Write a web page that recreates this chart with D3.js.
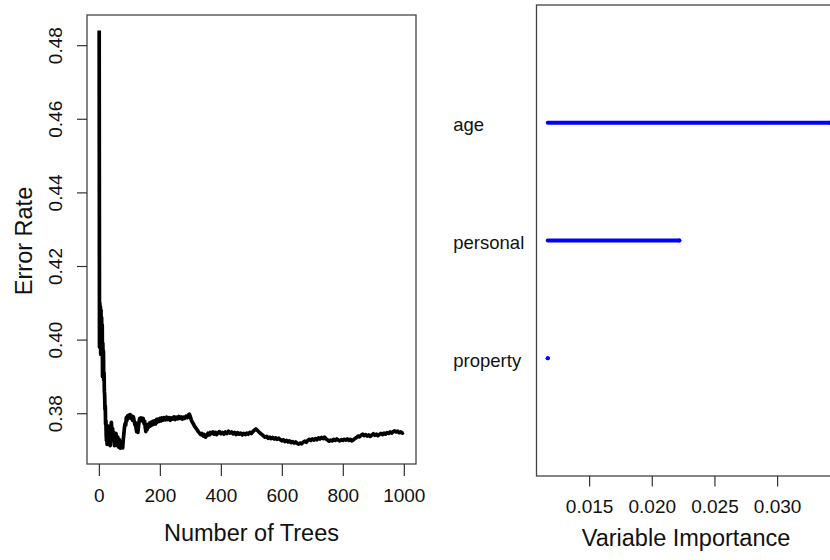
<!DOCTYPE html>
<html>
<head>
	<meta charset="utf-8">
	<title>random forest error and importance with d3</title>
	<style>
		body { margin: 0; background: #fff; }
		text { font-family: "Liberation Sans", Arial, Helvetica, sans-serif; fill: #111; }
	</style>
</head>
<body>
	<div class="svg-rf"></div>
<script src="https://cdn.jsdelivr.net/npm/d3@7/dist/d3.min.js"></script>
<script>
	// error rate by number of trees: [trees, error]
	let errorPath = [
		[1,0.484],[2,0.398],[3,0.410],[4,0.402],[5,0.409],[6,0.396],[7,0.408],[8,0.399],[9,0.406],[10,0.398],
		[11,0.404],[12,0.390],[13,0.399],[14,0.392],[15,0.397],[16,0.389],[17,0.391],[18,0.386],[19,0.385],[20,0.381],
		[21,0.382],[22,0.377],[23,0.378],[24,0.374],[25,0.3725],[26,0.375],[27,0.3715],[28,0.3735],[29,0.3755],[30,0.3765],
		[31,0.3745],[32,0.372],[33,0.3735],[34,0.3715],[35,0.3745],[36,0.3728],[37,0.3712],[38,0.3735],[40,0.3768],[41,0.3775],
		[42,0.3760],[44,0.3742],[45,0.3758],[47,0.3735],[48,0.3748],[50,0.3722],[51,0.3712],[53,0.3738],[55,0.3725],[56,0.3745],
		[58,0.3728],[60,0.3712],[62,0.3735],[63,0.3722],[65,0.3708],[67,0.3728],[68,0.3712],[70,0.3705],[72,0.3722],[74,0.3708],
		[76,0.3718],[78,0.3706],[80,0.3728],[82,0.3745],[84,0.3762],[86,0.3772],[88,0.3768],[90,0.3788],[92,0.3780],[94,0.3793],
		[96,0.3786],[98,0.3795],[100,0.3789],[103,0.3796],[106,0.3786],[108,0.3792],[110,0.3781],[113,0.3790],[116,0.3778],[118,0.3769],
		[120,0.3774],[122,0.3758],[124,0.3750],[126,0.3762],[128,0.3748],[130,0.3766],[132,0.3778],[134,0.3786],[136,0.3779],[139,0.3787],
		[142,0.3780],[145,0.3786],[148,0.3772],[150,0.3778],[152,0.3762],[154,0.3750],[156,0.3764],[158,0.3755],[160,0.3769],[163,0.3762],
		[166,0.3773],[168,0.3765],[171,0.3775],[174,0.3768],[177,0.3778],[180,0.3770],[183,0.3779],[186,0.3771],[189,0.3783],[192,0.3776],
		[195,0.3784],[198,0.3778],[201,0.3786],[204,0.3779],[207,0.3787],[210,0.3781],[214,0.3788],[218,0.3782],[222,0.3789],[226,0.3783],
		[230,0.3788],[234,0.3781],[238,0.3787],[242,0.3784],[246,0.3790],[250,0.3783],[254,0.3789],[258,0.3785],[262,0.3791],[266,0.3786],
		[270,0.3790],[274,0.3784],[278,0.3789],[282,0.3786],[286,0.3792],[290,0.3788],[294,0.3795],[297,0.3797],[300,0.3790],[303,0.3782],
		[306,0.3776],[310,0.3771],[314,0.3764],[318,0.3760],[322,0.3755],[326,0.3750],[330,0.3746],[334,0.3742],[338,0.3745],[342,0.3738],
		[346,0.3742],[350,0.3735],[354,0.3740],[358,0.3746],[362,0.3741],[366,0.3748],[370,0.3745],[374,0.3749],[378,0.3743],[382,0.3748],
		[386,0.3742],[390,0.3746],[395,0.3750],[400,0.3744],[405,0.3748],[410,0.3743],[415,0.3749],[420,0.3745],[425,0.3751],[430,0.3746],
		[435,0.3749],[440,0.3744],[445,0.3748],[450,0.3742],[455,0.3747],[460,0.3743],[465,0.3746],[470,0.3741],[475,0.3745],[480,0.3742],
		[485,0.3746],[490,0.3743],[495,0.3748],[500,0.3745],[505,0.3750],[510,0.3754],[515,0.3757],[520,0.3753],[525,0.3749],[530,0.3745],
		[535,0.3742],[540,0.3738],[545,0.3735],[550,0.3737],[555,0.3732],[560,0.3735],[565,0.3731],[570,0.3734],[575,0.3730],[580,0.3733],
		[585,0.3729],[590,0.3732],[595,0.3728],[600,0.3725],[605,0.3728],[610,0.3723],[615,0.3726],[620,0.3722],[625,0.3725],[630,0.3720],
		[635,0.3723],[640,0.3719],[645,0.3722],[650,0.3718],[655,0.3716],[660,0.3719],[665,0.3717],[670,0.3721],[675,0.3724],[680,0.3721],
		[685,0.3726],[690,0.3729],[695,0.3726],[700,0.3730],[705,0.3727],[710,0.3731],[715,0.3728],[720,0.3733],[725,0.3730],[730,0.3734],
		[735,0.3731],[740,0.3735],[745,0.3730],[750,0.3727],[755,0.3724],[760,0.3727],[765,0.3725],[770,0.3729],[775,0.3726],[780,0.3730],
		[785,0.3727],[790,0.3725],[795,0.3728],[800,0.3726],[805,0.3729],[810,0.3727],[815,0.3730],[820,0.3726],[825,0.3729],[830,0.3725],
		[835,0.3728],[840,0.3731],[845,0.3734],[850,0.3738],[855,0.3736],[860,0.3740],[865,0.3743],[870,0.3739],[875,0.3742],[880,0.3738],
		[885,0.3741],[890,0.3737],[895,0.3740],[900,0.3744],[905,0.3740],[910,0.3743],[915,0.3739],[920,0.3742],[925,0.3745],[930,0.3742],
		[935,0.3746],[940,0.3743],[945,0.3747],[950,0.3745],[955,0.3749],[960,0.3746],[965,0.3750],[970,0.3752],[975,0.3749],[980,0.3751],
		[985,0.3747],[990,0.3749],[995,0.3746],[1000,0.3748]
	];
	let treeTicks = [0, 200, 400, 600, 800, 1000];
	let errorTicks = [0.38, 0.40, 0.42, 0.44, 0.46, 0.48];

	// variable importance
	let varNames = ["age", "personal", "property"];
	let varImportance = [0.0342, 0.0222, 0.0117];
	let importanceTicks = [0.015, 0.020, 0.025, 0.030];

	window.onload = function(){
		let svg = d3.select(".svg-rf").append("svg")
			.attr("width", 830)
			.attr("height", 560);
		showError(svg);
		showImportance(svg);
	}

	function showError(svg){
		// plot box in pixels
		let box = {"left": 87, "right": 416, "top": 15, "bottom": 464};

		// R style 4% padding around the data range
		let scaleX = d3.scaleLinear()
			.domain([-38.96, 1039.96])
			.range([box.left, box.right]);
		let scaleY = d3.scaleLinear()
			.domain([0.3662, 0.4882])
			.range([box.bottom, box.top]);

		let line = d3.line()
			.x(d => scaleX(d[0]))
			.y(d => scaleY(d[1]));

		svg.append("path")
			.datum(errorPath)
			.attr("d", line)
			.attr("fill", "none")
			.attr("stroke", "#000")
			.attr("stroke-width", 3.7)
			.attr("stroke-linejoin", "round");

		svg.append("rect")
			.attr("x", box.left)
			.attr("y", box.top)
			.attr("width", box.right - box.left)
			.attr("height", box.bottom - box.top)
			.attr("fill", "none")
			.attr("stroke", "#444")
			.attr("stroke-width", 1.3);

		// x axis
		let axisX = svg.append("g")
			.attr("transform", "translate(0," + box.bottom + ")")
			.call(d3.axisBottom(scaleX).tickValues(treeTicks).tickSize(12).tickFormat(d3.format("d")));
		axisX.select(".domain").remove();
		axisX.selectAll(".tick line").attr("stroke", "#333").attr("stroke-width", 1.2);
		axisX.selectAll(".tick text")
			.attr("y", 37.7)
			.attr("dy", null)
			.style("font-size", "19px");

		// y axis with rotated labels
		let axisY = svg.append("g")
			.attr("transform", "translate(" + box.left + ",0)")
			.call(d3.axisLeft(scaleY).tickValues(errorTicks).tickSize(10).tickFormat(d3.format(".2f")));
		axisY.select(".domain").remove();
		axisY.selectAll(".tick line").attr("stroke", "#333").attr("stroke-width", 1.2);
		axisY.selectAll(".tick text")
			.attr("transform", "rotate(-90)")
			.attr("x", 0)
			.attr("y", -25.5)
			.attr("dy", null)
			.attr("text-anchor", "middle")
			.style("font-size", "19px");

		// titles
		svg.append("text")
			.attr("x", (box.left + box.right) / 2)
			.attr("y", 541)
			.attr("text-anchor", "middle")
			.style("font-size", "23.5px")
			.text("Number of Trees");
		svg.append("text")
			.attr("transform", "translate(31.5," + 241 + ") rotate(-90)")
			.attr("text-anchor", "middle")
			.style("font-size", "23.5px")
			.text("Error Rate");
	}

	function showImportance(svg){
		let box = {"left": 536.5, "right": 841, "top": 5, "bottom": 476};
		let minImp = d3.min(varImportance);

		let scaleX = d3.scaleLinear()
			.domain([0.0108, 0.0351])
			.range([box.left, box.right]);
		let scaleY = d3.scalePoint()
			.domain(varNames)
			.range([box.top, box.bottom])
			.padding(1);

		let rows = varNames.map((name, i) => ({"name": name, "value": varImportance[i]}));

		// segments from the smallest importance out to each value
		svg.selectAll("line.imp")
			.data(rows)
			.enter()
			.append("line")
			.attr("class", "imp")
			.attr("x1", scaleX(minImp))
			.attr("x2", d => scaleX(d.value))
			.attr("y1", d => scaleY(d.name))
			.attr("y2", d => scaleY(d.name))
			.attr("stroke", "#0000ff")
			.attr("stroke-width", 4)
			.attr("stroke-linecap", "round");
		svg.selectAll("circle.imp")
			.data(rows)
			.enter()
			.append("circle")
			.attr("class", "imp")
			.attr("cx", d => scaleX(d.value))
			.attr("cy", d => scaleY(d.name))
			.attr("r", 2.1)
			.attr("fill", "#0000ff");

		svg.append("rect")
			.attr("x", box.left)
			.attr("y", box.top)
			.attr("width", box.right - box.left)
			.attr("height", box.bottom - box.top)
			.attr("fill", "none")
			.attr("stroke", "#444")
			.attr("stroke-width", 1.3);

		// variable names on the left
		svg.selectAll("text.var")
			.data(rows)
			.enter()
			.append("text")
			.attr("class", "var")
			.attr("x", 453.3)
			.attr("y", d => scaleY(d.name) + 8.5)
			.style("font-size", "18.5px")
			.text(d => d.name);

		let axisX = svg.append("g")
			.attr("transform", "translate(0," + box.bottom + ")")
			.call(d3.axisBottom(scaleX).tickValues(importanceTicks).tickSize(10.5).tickFormat(d3.format(".3f")));
		axisX.select(".domain").remove();
		axisX.selectAll(".tick line").attr("stroke", "#333").attr("stroke-width", 1.2);
		axisX.selectAll(".tick text")
			.attr("y", 37)
			.attr("dy", null)
			.style("font-size", "19px");

		svg.append("text")
			.attr("x", 686)
			.attr("y", 546)
			.attr("text-anchor", "middle")
			.style("font-size", "23.5px")
			.text("Variable Importance");
	}
</script>
</body>
</html>
